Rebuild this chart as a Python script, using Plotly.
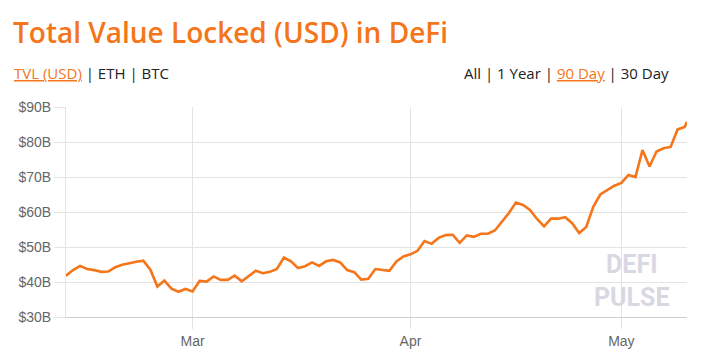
import pandas as pd
import plotly.graph_objects as go

# ---- data (TVL in billions USD) ----
day_dates = list(pd.date_range("2021-02-11", "2021-05-10", freq="D").strftime("%Y-%m-%d"))
last_time = "2021-05-10 08:00"
dates = day_dates + [last_time]
tvl_b = [41.8, 43.4, 44.6, 43.7, 43.4, 42.9, 43.0, 44.2, 44.9, 45.4,
         45.8, 46.1, 43.5, 38.7, 40.4, 38.1, 37.2, 38.0, 37.3, 40.3,
         40.1, 41.6, 40.6, 40.6, 41.8, 40.2, 41.8, 43.2, 42.5, 42.9,
         43.7, 47.0, 45.9, 44.0, 44.5, 45.6, 44.6, 45.9, 46.3, 45.6,
         43.4, 42.8, 40.7, 40.9, 43.7, 43.4, 43.2, 45.9, 47.3, 47.9,
         48.9, 51.7, 50.9, 52.6, 53.4, 53.5, 51.2, 53.3, 52.9, 53.8,
         53.8, 54.7, 57.3, 59.7, 62.7, 62.0, 60.6, 58.0, 55.9, 58.1,
         58.1, 58.5, 56.8, 54.0, 55.7, 61.5, 65.0, 66.2, 67.5, 68.3,
         70.6, 70.0, 77.7, 73.0, 77.3, 78.2, 78.6, 83.6, 84.3, 85.8]
y_ticks = [30, 40, 50, 60, 70, 80, 90]
y_tick_text = ["$30B", "$40B", "$50B", "$60B", "$70B", "$80B", "$90B"]
x_ticks = ["2021-03-01", "2021-04-01", "2021-05-01"]
x_tick_text = ["Mar", "Apr", "May"]

title_text = "Total Value Locked (USD) in DeFi"
left_menu = "<span style='color:#f5761a'><u>TVL (USD)</u></span> | ETH | BTC"
right_menu = "All | 1 Year | <span style='color:#f5761a'><u>90 Day</u></span> | 30 Day"
watermark = "DEFI<br>PULSE"

ORANGE = "#f5761a"
W, H = 702, 361
L, R, T, B = 66, 15, 107, 41
PW, PH = W - L - R, H - T - B


def px(xp):
    return (xp - L) / PW


def py(yp):
    return (H - B - yp) / PH


fig = go.Figure()
fig.add_trace(go.Scatter(x=dates, y=tvl_b, mode="lines",
                         line=dict(color=ORANGE, width=2.6),
                         hoverinfo="skip"))

anns = [
    dict(text=title_text, x=px(11), y=py(30.5), xanchor="left", yanchor="middle",
         font=dict(family="Open Sans", size=28, color=ORANGE, weight=600)),
    dict(text=left_menu, x=px(12), y=py(72.5), xanchor="left", yanchor="middle",
         font=dict(family="Open Sans", size=15, color="#222")),
    dict(text=right_menu, x=px(671), y=py(72.5), xanchor="right", yanchor="middle",
         font=dict(family="Open Sans", size=15, color="#222")),
    dict(text=watermark, x=px(632), y=py(283), xanchor="center", yanchor="middle",
         font=dict(family="Roboto", size=25, color="#d8d8e2", weight=700)),
]
for a in anns:
    a.update(xref="paper", yref="paper", showarrow=False)

fig.update_layout(
    width=W, height=H,
    margin=dict(l=L, r=R, t=T, b=B),
    paper_bgcolor="white", plot_bgcolor="white",
    showlegend=False,
    annotations=anns,
    xaxis=dict(type="date", range=[dates[0], dates[-1]],
               tickvals=x_ticks, ticktext=x_tick_text,
               showgrid=True, gridcolor="#e3e3e3", gridwidth=1,
               ticks="outside", ticklen=11, tickcolor="#e3e3e3",
               showline=True, linecolor="#cfcfcf", linewidth=1,
               zeroline=False,
               tickfont=dict(family="Liberation Sans", size=14, color="#666")),
    yaxis=dict(range=[30, 90], tickvals=y_ticks, ticktext=y_tick_text,
               showgrid=True, gridcolor="#e3e3e3", gridwidth=1,
               ticks="outside", ticklen=11, tickcolor="#e3e3e3",
               showline=True, linecolor="#e3e3e3", linewidth=1,
               zeroline=False,
               tickfont=dict(family="Liberation Sans", size=14, color="#666")),
)

fig.write_html("out.html", config={"displayModeBar": False},
               post_script="document.body.style.margin='0';")
